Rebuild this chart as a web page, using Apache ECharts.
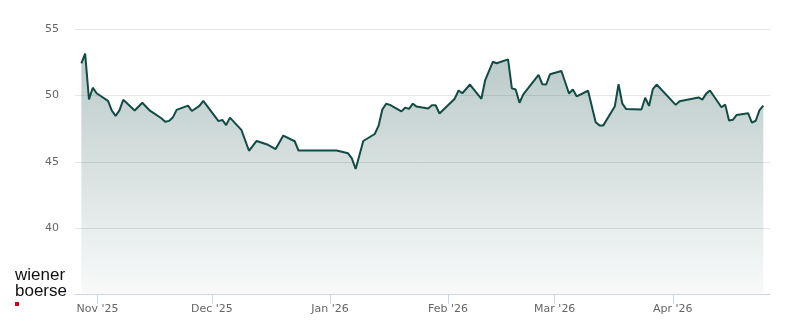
<!DOCTYPE html>
<html>
<head>
<meta charset="utf-8">
<script src="https://cdn.jsdelivr.net/npm/echarts@6/dist/echarts.min.js"></script>
<style>
html,body{margin:0;padding:0;background:#fff;}
#chart{width:800px;height:324px;}
</style>
</head>
<body>
<div id="chart"></div>
<script>
// Trading dates (closing prices plotted late in the day)
const dates = [
  '2025-10-27','2025-10-28','2025-10-29','2025-10-30','2025-10-31',
  '2025-11-03','2025-11-04','2025-11-05','2025-11-06','2025-11-07',
  '2025-11-10','2025-11-12','2025-11-14',
  '2025-11-17','2025-11-18','2025-11-19','2025-11-20','2025-11-21',
  '2025-11-24','2025-11-25','2025-11-27','2025-11-28',
  '2025-12-02','2025-12-03','2025-12-04','2025-12-05',
  '2025-12-08','2025-12-10','2025-12-12',
  '2025-12-15','2025-12-17','2025-12-19',
  '2025-12-22','2025-12-23','2026-01-02',
  '2026-01-05','2026-01-06','2026-01-07','2026-01-09',
  '2026-01-12','2026-01-13','2026-01-14','2026-01-15','2026-01-16',
  '2026-01-19','2026-01-20','2026-01-21','2026-01-22','2026-01-23',
  '2026-01-26','2026-01-27','2026-01-28','2026-01-29',
  '2026-02-02','2026-02-03','2026-02-04','2026-02-06',
  '2026-02-09','2026-02-10','2026-02-12','2026-02-13',
  '2026-02-16','2026-02-17','2026-02-18','2026-02-19','2026-02-20',
  '2026-02-24','2026-02-25','2026-02-26','2026-02-27',
  '2026-03-02','2026-03-04','2026-03-05','2026-03-06',
  '2026-03-09','2026-03-11','2026-03-12','2026-03-13',
  '2026-03-16','2026-03-17','2026-03-18','2026-03-19',
  '2026-03-23','2026-03-24','2026-03-25','2026-03-26','2026-03-27',
  '2026-04-01','2026-04-02',
  '2026-04-07','2026-04-08','2026-04-09','2026-04-10',
  '2026-04-13','2026-04-14','2026-04-15','2026-04-16','2026-04-17',
  '2026-04-20','2026-04-21','2026-04-22','2026-04-23','2026-04-24'
];
const prices = [
  52.44,53.18,49.72,50.60,50.18,
  49.60,48.86,48.47,48.88,49.69,
  48.88,49.46,48.86,
  48.29,48.03,48.09,48.34,48.92,
  49.24,48.84,49.22,49.61,
  48.07,48.17,47.77,48.34,
  47.41,45.83,46.57,
  46.28,45.96,46.98,
  46.55,45.85,45.85,
  45.64,45.25,44.45,46.57,
  47.10,47.71,48.95,49.39,49.30,
  48.81,49.09,49.00,49.39,49.17,
  49.03,49.27,49.27,48.65,
  49.77,50.39,50.18,50.84,
  49.76,51.18,52.56,52.45,
  52.74,50.55,50.46,49.46,50.10,
  51.56,50.86,50.84,51.61,
  51.86,50.16,50.46,49.95,
  50.37,47.98,47.75,47.75,
  49.17,50.86,49.39,48.98,
  48.95,49.84,49.22,50.49,50.84,
  49.30,49.58,
  49.86,49.70,50.15,50.39,
  49.12,49.32,48.11,48.17,48.54,
  48.67,47.95,48.10,48.90,49.24
];
const yTicks = [40, 45, 50, 55];
const monthNames = ['Jan','Feb','Mar','Apr','May','Jun','Jul','Aug','Sep','Oct','Nov','Dec'];

const seriesData = dates.map((d, i) => [d + 'T18:00:00', prices[i]]);

const chart = echarts.init(document.getElementById('chart'), null, {renderer: 'canvas'});
const DAY = 86400000;
chart.setOption({
  animation: false,
  backgroundColor: '#ffffff',
  grid: {left: 75, right: 30, top: 29.5, bottom: 30, containLabel: false},
  xAxis: {
    type: 'time',
    min: new Date('2025-10-26T02:00:00').getTime(),
    max: new Date('2026-04-26T12:00:00').getTime(),
    minInterval: 28 * DAY,
    maxInterval: 31 * DAY,
    splitNumber: 6,
    axisLine: {show: true, lineStyle: {color: '#ccd6eb', width: 1}},
    axisTick: {show: true, length: 10, lineStyle: {color: '#ccd6eb'}},
    splitLine: {show: false},
    axisLabel: {
      color: '#666666',
      fontFamily: 'DejaVu Sans',
      fontSize: 11,
      margin: 10,
      hideOverlap: false,
      formatter: function (v) {
        const d = new Date(v);
        return monthNames[d.getMonth()] + " '" + String(d.getFullYear()).slice(2);
      }
    }
  },
  yAxis: {
    type: 'value',
    min: 35,
    max: 55,
    interval: 5,
    axisLine: {show: false},
    axisTick: {show: false},
    splitLine: {lineStyle: {color: '#e6e6e6', width: 1}},
    axisLabel: {
      color: '#666666',
      fontFamily: 'DejaVu Sans',
      fontSize: 11,
      margin: 16,
      formatter: function (v) { return yTicks.indexOf(v) >= 0 ? String(v) : ''; }
    }
  },
  series: [{
    type: 'line',
    data: seriesData,
    showSymbol: false,
    symbol: 'none',
    lineStyle: {color: '#124b45', width: 2},
    itemStyle: {color: '#124b45'},
    areaStyle: {
      color: new echarts.graphic.LinearGradient(0, 0, 0, 1, [
        {offset: 0, color: 'rgba(18,75,69,0.42)'},
        {offset: 1, color: 'rgba(18,75,69,0.04)'}
      ])
    }
  }],
  graphic: [
    {type: 'text', left: 15, top: 267, style: {text: 'wiener', font: '17px "Liberation Sans", Arial, sans-serif', fill: '#111111'}},
    {type: 'text', left: 15, top: 283, style: {text: 'boerse', font: '17px "Liberation Sans", Arial, sans-serif', fill: '#111111'}},
    {type: 'rect', left: 15, top: 302, shape: {width: 4, height: 4}, style: {fill: '#d0021b'}}
  ]
});
</script>
</body>
</html>
